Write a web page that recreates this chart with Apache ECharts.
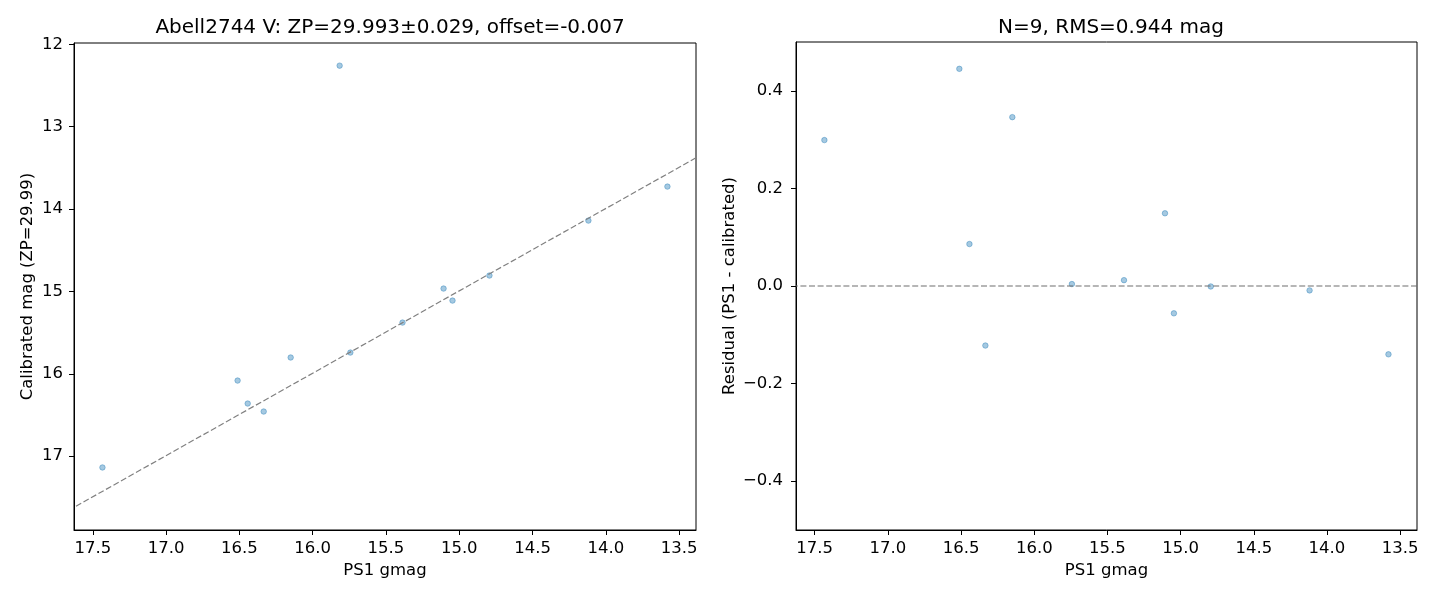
<!DOCTYPE html>
<html>
<head>
<meta charset="utf-8">
<script src="https://cdn.jsdelivr.net/npm/echarts@6/dist/echarts.min.js"></script>
<style>
  html, body { margin: 0; padding: 0; background: #fff; }
  #calib { width: 1440px; height: 600px; }
</style>
</head>
<body>
<div id="calib"></div>
<script>
// PS1 g magnitudes of the matched stars, and the calibrated magnitudes
var psMag  = [17.434, 16.512, 16.443, 16.334, 16.150, 15.816, 15.743, 15.387, 15.107, 15.046, 14.794, 14.119, 13.580];
var calMag = [17.137, 16.082, 16.361, 16.458, 15.802, 12.259, 15.742, 15.378, 14.965, 15.111, 14.807, 14.140, 13.727];
// residual (PS1 - calibrated), null = off the plotted range
var residual = [0.299, 0.445, 0.086, -0.122, 0.346, null, 0.004, 0.012, 0.149, -0.056, -0.001, -0.009, -0.140];

var offset = -0.007;
var xRange = [13.385, 17.628];
var magRange = [11.984, 17.896];
var resRange = [-0.5, 0.5];

var xTicks = [17.5, 17.0, 16.5, 16.0, 15.5, 15.0, 14.5, 14.0, 13.5];
var magTicks = [12, 13, 14, 15, 16, 17];
var resTicks = [-0.4, -0.2, 0.0, 0.2, 0.4];

var titleLeft = 'Abell2744 V: ZP=29.993\u00b10.029, offset=-0.007';
var titleRight = 'N=9, RMS=0.944 mag';

function minus(s) {
    return String(s).replace('-', '\u2212');
}

function drawCalib() {
    var chart = echarts.init(document.getElementById('calib'));
    var font = 'DejaVu Sans';
    var dot = 'rgba(31,119,180,0.5)';
    var fs = 16.5;

    var magPts = [], resPts = [];
    for (var i = 0; i < psMag.length; i++) {
        magPts.push([psMag[i], calMag[i]]);
        if (residual[i] !== null) resPts.push([psMag[i], residual[i]]);
    }

    function xAxisOf(idx) {
        return {
            gridIndex: idx,
            type: 'value',
            min: xRange[0],
            max: xRange[1],
            inverse: true,
            name: 'PS1 gmag',
            nameLocation: 'middle',
            nameGap: 31,
            nameTextStyle: { fontFamily: font, fontSize: fs, color: '#000' },
            axisLine: { onZero: false, lineStyle: { color: '#000', width: 1 } },
            axisTick: { customValues: xTicks, length: 5, lineStyle: { color: '#000' } },
            axisLabel: {
                customValues: xTicks,
                margin: 10,
                fontFamily: font, fontSize: fs, color: '#000',
                formatter: function (v) { return v.toFixed(1); }
            },
            splitLine: { show: false }
        };
    }

    var option = {
        animation: false,
        backgroundColor: '#fff',
        title: [{
            text: titleLeft,
            left: 385, top: 13, textAlign: 'center',
            textStyle: { fontFamily: font, fontSize: 20, fontWeight: 'normal', color: '#000' }
        }, {
            text: titleRight,
            left: 1106, top: 13, textAlign: 'center',
            textStyle: { fontFamily: font, fontSize: 20, fontWeight: 'normal', color: '#000' }
        }],
        grid: [
            { left: 74, top: 43, width: 622, height: 487, show: true, borderColor: '#000', borderWidth: 1 },
            { left: 796, top: 42, width: 621, height: 488, show: true, borderColor: '#000', borderWidth: 1 }
        ],
        xAxis: [xAxisOf(0), xAxisOf(1)],
        yAxis: [{
            gridIndex: 0,
            type: 'value',
            min: magRange[0],
            max: magRange[1],
            inverse: true,
            name: 'Calibrated mag (ZP=29.99)',
            nameLocation: 'middle',
            nameGap: 38,
            nameTextStyle: { fontFamily: font, fontSize: fs, color: '#000' },
            axisLine: { onZero: false, lineStyle: { color: '#000', width: 1 } },
            axisTick: { customValues: magTicks, length: 5, lineStyle: { color: '#000' } },
            axisLabel: {
                customValues: magTicks,
                margin: 11,
                fontFamily: font, fontSize: fs, color: '#000',
                formatter: function (v) { return String(Math.round(v)); }
            },
            splitLine: { show: false }
        }, {
            gridIndex: 1,
            type: 'value',
            min: resRange[0],
            max: resRange[1],
            name: 'Residual (PS1 - calibrated)',
            nameLocation: 'middle',
            nameGap: 58,
            nameTextStyle: { fontFamily: font, fontSize: fs, color: '#000' },
            axisLine: { onZero: false, lineStyle: { color: '#000', width: 1 } },
            axisTick: { customValues: resTicks, length: 5, lineStyle: { color: '#000' } },
            axisLabel: {
                customValues: resTicks,
                margin: 13,
                fontFamily: font, fontSize: fs, color: '#000',
                formatter: function (v) { return minus(v.toFixed(1)); }
            },
            splitLine: { show: false }
        }],
        series: [{
            type: 'scatter',
            xAxisIndex: 0, yAxisIndex: 0,
            symbolSize: 5.5,
            itemStyle: { color: dot, borderColor: dot, borderWidth: 1 },
            data: magPts
        }, {
            // one-to-one line shifted by the offset
            type: 'line',
            xAxisIndex: 0, yAxisIndex: 0,
            symbol: 'none',
            lineStyle: { color: '#808080', width: 1.2, type: [6, 2.6] },
            data: [[xRange[0], xRange[0] + offset], [xRange[1], xRange[1] + offset]]
        }, {
            type: 'scatter',
            xAxisIndex: 1, yAxisIndex: 1,
            symbolSize: 5.5,
            itemStyle: { color: dot, borderColor: dot, borderWidth: 1 },
            data: resPts
        }, {
            type: 'line',
            xAxisIndex: 1, yAxisIndex: 1,
            symbol: 'none',
            lineStyle: { color: '#6e6e6e', width: 1.2, type: [6, 2.6] },
            data: [[xRange[0], 0], [xRange[1], 0]]
        }]
    };
    chart.setOption(option, true);
}

drawCalib();
</script>
</body>
</html>
